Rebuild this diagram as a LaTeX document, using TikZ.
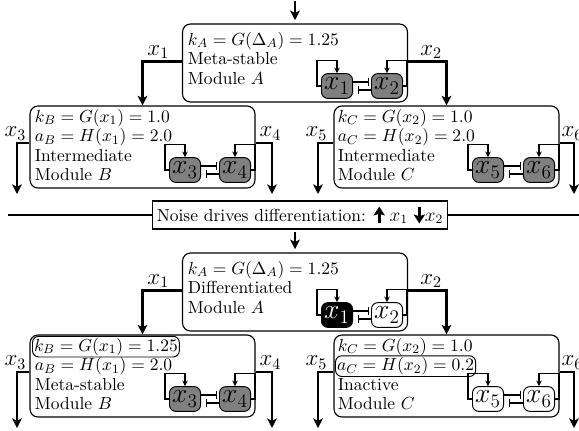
\documentclass[tikz,border=0pt]{standalone}
\usetikzlibrary{arrows.meta,calc}
\newcommand\myupar{\tikz[baseline=0pt]\draw[line width=2pt,-{Stealth[length=5.5pt,width=7pt,inset=1pt]}] (0,-1.5pt)--(0,9pt);}
\newcommand\mydownar{\tikz[baseline=0pt]\draw[line width=2pt,-{Stealth[length=5.5pt,width=7pt,inset=1pt]}] (0,9pt)--(0,-1.5pt);}
\newcommand\myleftloop[1]{\draw[fb] (#1.west) -- ++(-4,0) |- ($(#1.north)+(0,-13)$) -- (#1.north);}
\newcommand\myrightloop[1]{\draw[fb] (#1.east) -- ++(4,0) |- ($(#1.north)+(0,-13)$) -- (#1.north);}
\newcommand\myrep[2]{%
  \draw[rep, shorten >=1pt] ([yshift=2.5pt]#1.east) -- ([yshift=2.5pt]#1.east -| #2.west);
  \draw[rep, shorten >=3pt] ([yshift=-2.5pt]#2.west) -- ([yshift=-2.5pt]#2.west -| #1.east);}
\begin{document}
\begin{tikzpicture}[x=0.625pt,y=-0.625pt,
  module/.style={draw, rounded corners=5pt, line width=0.7pt, minimum width=140.6pt, inner sep=0pt},
  txt/.style={anchor=base west, inner sep=1pt, font=\fontsize{10.9}{13}\selectfont},
  gene/.style={draw, rounded corners=4pt, line width=0.6pt, fill=gray, minimum width=19.4pt, minimum height=15.5pt, inner sep=0pt, font=\LARGE},
  conn/.style={line width=1.5pt, -{Stealth[length=6pt,width=6pt,inset=1.5pt]}},
  fb/.style={line width=0.7pt, -{Stealth[length=3.5pt,width=3.5pt]}},
  rep/.style={line width=0.7pt, -{Bar[width=5.5pt,line width=0.8pt]}},
  lab/.style={font=\fontsize{14}{14}\selectfont, inner sep=1pt},
  circ/.style={draw, rounded corners=4pt, line width=0.6pt}
]
\useasboundingbox (0,0) rectangle (579,430);

% ---------- top half ----------
\coordinate (topin) at (295,1);
\node[module, minimum height=48.75pt] (A1) at (295,63) {};
\node[module, minimum height=51.25pt] (B1) at (142.5,147) {};
\node[module, minimum height=51.25pt] (C1) at (446.5,147) {};

\node[txt] (A1a) at (186,45)   {$k_A = G(\Delta_A) = 1.25$};
\node[txt] (A1b) at (186,64.5) {Meta-stable};
\node[txt] (A1c) at (186,84)   {Module $A$};

\node[txt] (B1a) at (33,122)   {$k_B = G(x_1) = 1.0$};
\node[txt] (B1b) at (33,141.5) {$a_B = H(x_1) = 2.0$};
\node[txt] (B1c) at (33,161)   {Intermediate};
\node[txt] (B1d) at (33,180.5) {Module $B$};

\node[txt] (C1a) at (336,122)   {$k_C = G(x_2) = 1.0$};
\node[txt] (C1b) at (336,141.5) {$a_C = H(x_2) = 2.0$};
\node[txt] (C1c) at (336,161)   {Intermediate};
\node[txt] (C1d) at (336,180.5) {Module $C$};

\node[gene] (ax1) at (337,86) {$x_1$};
\node[gene] (ax2) at (387,86) {$x_2$};
\node[gene] (bx3) at (185,170) {$x_3$};
\node[gene] (bx4) at (235,170) {$x_4$};
\node[gene] (cx5) at (488,170) {$x_5$};
\node[gene] (cx6) at (539,170) {$x_6$};

\myleftloop{ax1}\myrightloop{ax2}\myrep{ax1}{ax2}
\myleftloop{bx3}\myrightloop{bx4}\myrep{bx3}{bx4}
\myleftloop{cx5}\myrightloop{cx6}\myrep{cx5}{cx6}

\draw[conn, shorten >=2pt] (topin) -- (A1.north);
\draw[conn] ([yshift=1pt]A1.west) -| node[lab, pos=0.3, above] {$x_1$} (B1.north);
\draw[conn] ([yshift=1pt]A1.east) -| node[lab, pos=0.3, above] {$x_2$} (C1.north);

\coordinate (b1l) at (17,194);
\coordinate (b1r) at (272,194);
\coordinate (c1l) at (318,194);
\coordinate (c1r) at (574,194);
\draw[conn] ([yshift=2.5pt]B1.west) -| node[lab, pos=0.5, above, xshift=-1pt] {$x_3$} (b1l);
\draw[conn] ([yshift=2.5pt]B1.east) -| node[lab, pos=0.5, above, xshift=-1pt] {$x_4$} (b1r);
\draw[conn] ([yshift=2.5pt]C1.west) -| node[lab, pos=0.5, above, xshift=-1pt] {$x_5$} (c1l);
\draw[conn] ([yshift=2.5pt]C1.east) -| node[lab, pos=0.5, above, xshift=-1pt] {$x_6$} (c1r);

% ---------- separator ----------
\node[draw, line width=0.8pt, inner sep=2.5pt, font=\fontsize{10.9}{13}\selectfont] (noise) at (300,215)
  {Noise drives differentiation: \myupar\hspace{3pt}{\large$x_1$} \mydownar{\large$x_2$}};
\coordinate (sepL) at (8,215);
\coordinate (sepR) at (579,215);
\draw[line width=0.7pt] (sepL) -- (noise.west);
\draw[line width=0.7pt] (noise.east) -- (sepR);

% ---------- bottom half ----------
\coordinate (midin) at (295,232);
\node[module, minimum height=48.75pt] (A2) at (295,292) {};
\node[module, minimum height=51.25pt] (B2) at (142.5,376) {};
\node[module, minimum height=51.25pt] (C2) at (446.5,376) {};

\node[txt] (A2a) at (186,274)   {$k_A = G(\Delta_A) = 1.25$};
\node[txt] (A2b) at (186,293.5) {Differentiated};
\node[txt] (A2c) at (186,313)   {Module $A$};

\node[txt, circ] (B2a) at (32,351) {$k_B = G(x_1) = 1.25$};
\node[txt] (B2b) at (33,370.5) {$a_B = H(x_1) = 2.0$};
\node[txt] (B2c) at (33,390)   {Meta-stable};
\node[txt] (B2d) at (33,409.5) {Module $B$};

\node[txt] (C2a) at (336,351)   {$k_C = G(x_2) = 1.0$};
\node[txt, circ] (C2b) at (335,370.5) {$a_C = H(x_2) = 0.2$};
\node[txt] (C2c) at (336,390)   {Inactive};
\node[txt] (C2d) at (336,409.5) {Module $C$};

\node[gene, fill=black, text=white] (ay1) at (337,315) {$x_1$};
\node[gene, fill=white] (ay2) at (387,315) {$x_2$};
\node[gene] (by3) at (185,399) {$x_3$};
\node[gene] (by4) at (235,399) {$x_4$};
\node[gene, fill=white] (cy5) at (488,399) {$x_5$};
\node[gene, fill=white] (cy6) at (539,399) {$x_6$};

\myleftloop{ay1}\myrightloop{ay2}\myrep{ay1}{ay2}
\myleftloop{by3}\myrightloop{by4}\myrep{by3}{by4}
\myleftloop{cy5}\myrightloop{cy6}\myrep{cy5}{cy6}

\draw[conn, shorten >=2pt] (midin) -- (A2.north);
\draw[conn] ([yshift=1pt]A2.west) -| node[lab, pos=0.3, above] {$x_1$} (B2.north);
\draw[conn] ([yshift=1pt]A2.east) -| node[lab, pos=0.3, above] {$x_2$} (C2.north);

\coordinate (b2l) at (17,428);
\coordinate (b2r) at (272,428);
\coordinate (c2l) at (318,428);
\coordinate (c2r) at (574,428);
\draw[conn] ([yshift=2.5pt]B2.west) -| node[lab, pos=0.5, above, xshift=-1pt] {$x_3$} (b2l);
\draw[conn] ([yshift=2.5pt]B2.east) -| node[lab, pos=0.5, above, xshift=-1pt] {$x_4$} (b2r);
\draw[conn] ([yshift=2.5pt]C2.west) -| node[lab, pos=0.5, above, xshift=-1pt] {$x_5$} (c2l);
\draw[conn] ([yshift=2.5pt]C2.east) -| node[lab, pos=0.5, above, xshift=-1pt] {$x_6$} (c2r);
\end{tikzpicture}
\end{document}
